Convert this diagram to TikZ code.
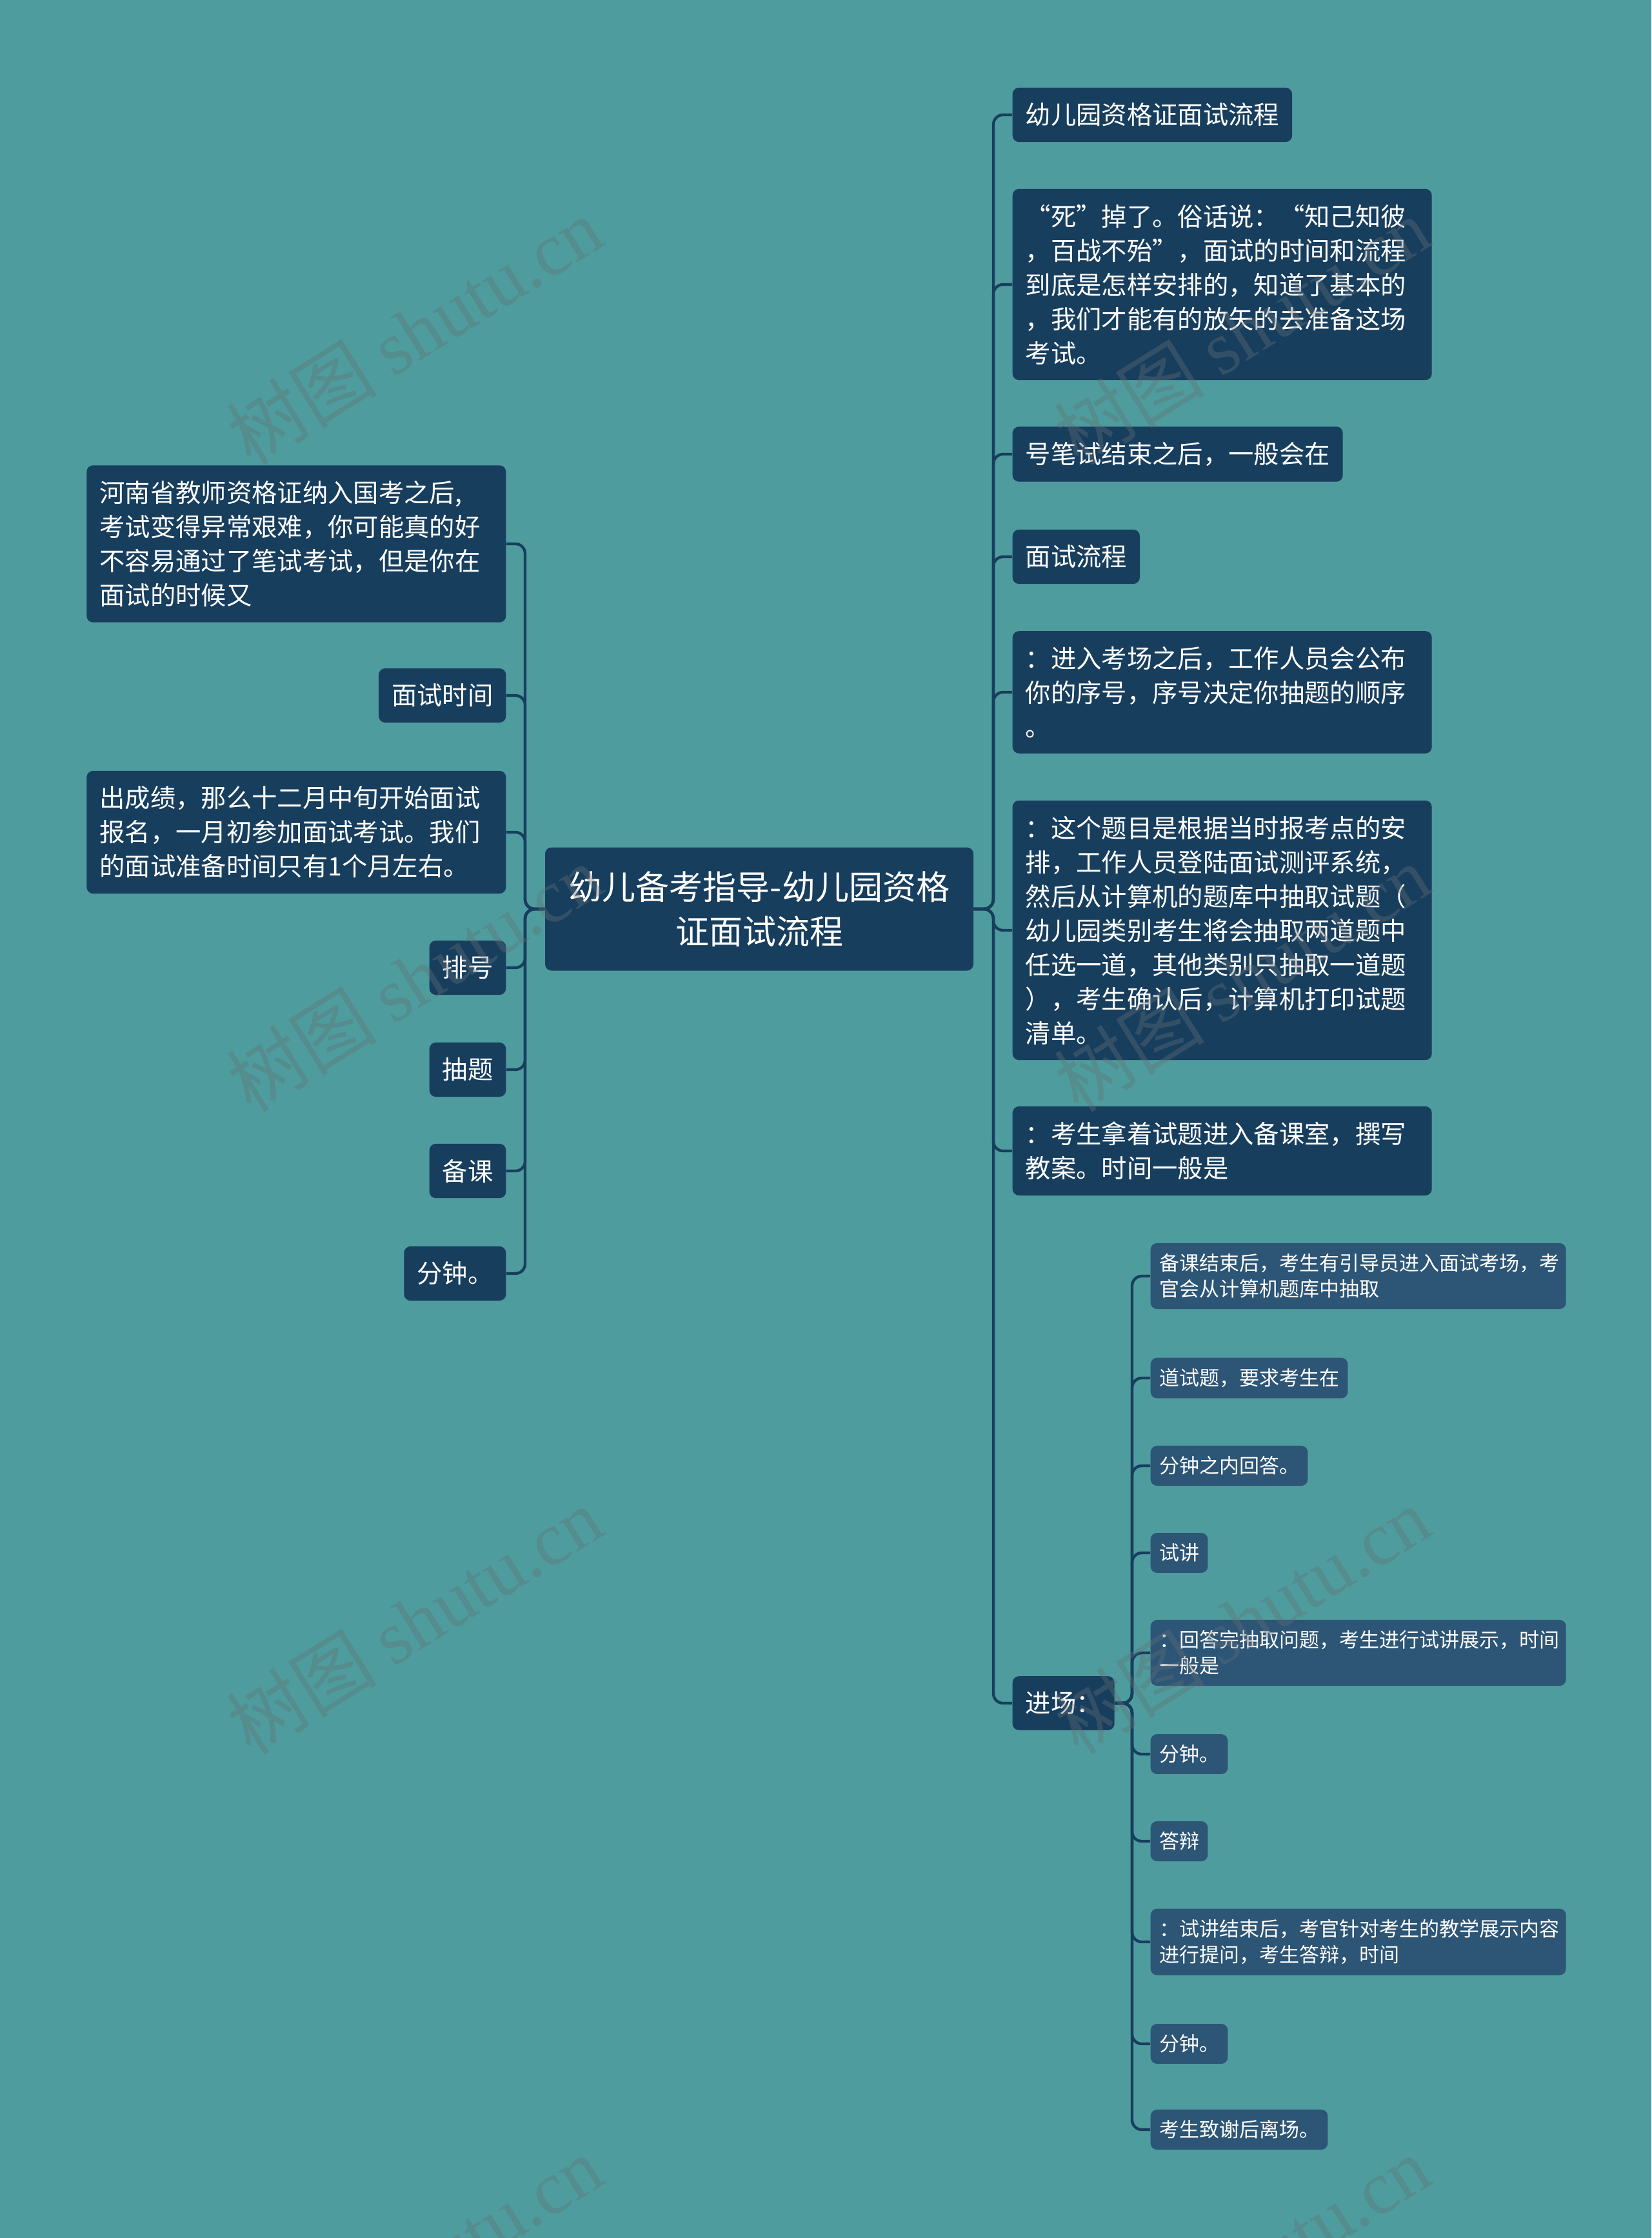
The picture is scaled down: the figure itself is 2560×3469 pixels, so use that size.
\documentclass[tikz,border=0pt]{standalone}
\usepackage{fontspec}
\setmainfont{Noto Sans CJK SC}
\newfontfamily\wmlatin{Liberation Serif}
\definecolor{bgc}{RGB}{78,156,157}
\definecolor{navy}{RGB}{24,62,94}
\definecolor{navyl}{RGB}{45,85,117}
\definecolor{wmc}{RGB}{100,112,118}
\begin{document}
\begin{tikzpicture}[x=0.3pt,y=-0.3pt,
  box/.style={rounded corners=3pt, text=white, align=left},
  rootbox/.style={rounded corners=3pt, text=white, align=center, fill=navy,
    font=\fontsize{15.6pt}{20.6pt}\selectfont, minimum width=199.2pt, minimum height=57.3pt},
  lvone/.style={box, fill=navy, font=\fontsize{11.8pt}{15.9pt}\selectfont, inner xsep=6pt, inner ysep=7.2pt},
  lvonew/.style={lvone, text width=183pt},
  lvtwo/.style={box, fill=navyl, font=\fontsize{9.3pt}{12pt}\selectfont, inner xsep=4pt, inner ysep=5pt},
  lvtwow/.style={lvtwo, text width=185.2pt},
  conn/.style={draw=navy, line width=1.3pt, rounded corners=4.5pt},
  wm/.style={text=wmc, text opacity=0.36, rotate=32, font=\fontsize{35pt}{35pt}\selectfont}
]
\fill[bgc] (0,0) rectangle (2560,3469);
\useasboundingbox (0,0) rectangle (2560,3469);

% root
\node[rootbox] (root) at (1177,1409) {幼儿备考指导-幼儿园资格\\证面试流程};

% left branch
\node[lvonew, anchor=east] (l1) at (785,843) {河南省教师资格证纳入国考之后,\\考试变得异常艰难，你可能真的好\\不容易通过了笔试考试，但是你在\\面试的时候又};
\node[lvone, anchor=east] (l2) at (785,1078) {面试时间};
\node[lvonew, anchor=east] (l3) at (785,1290) {出成绩，那么十二月中旬开始面试\\报名，一月初参加面试考试。我们\\的面试准备时间只有1个月左右。};
\node[lvone, anchor=east] (l4) at (785,1500) {排号};
\node[lvone, anchor=east] (l5) at (785,1658) {抽题};
\node[lvone, anchor=east] (l6) at (785,1815) {备课};
\node[lvone, anchor=east] (l7) at (785,1974) {分钟。};

% right branch
\node[lvone, anchor=west] (r1) at (1569,178) {幼儿园资格证面试流程};
\node[lvonew, anchor=west] (r2) at (1569,441) {“死”掉了。俗话说：“知己知彼\\，百战不殆”，面试的时间和流程\\到底是怎样安排的，知道了基本的\\，我们才能有的放矢的去准备这场\\考试。};
\node[lvone, anchor=west] (r3) at (1569,704) {号笔试结束之后，一般会在};
\node[lvone, anchor=west] (r4) at (1569,863) {面试流程};
\node[lvonew, anchor=west] (r5) at (1569,1073) {：进入考场之后，工作人员会公布\\你的序号，序号决定你抽题的顺序\\。};
\node[lvonew, anchor=west] (r6) at (1569,1442) {：这个题目是根据当时报考点的安\\排，工作人员登陆面试测评系统，\\然后从计算机的题库中抽取试题（\\幼儿园类别考生将会抽取两道题中\\任选一道，其他类别只抽取一道题\\），考生确认后，计算机打印试题\\清单。};
\node[lvonew, anchor=west] (r7) at (1569,1784) {：考生拿着试题进入备课室，撰写\\教案。时间一般是};
\node[lvone, anchor=west] (r8) at (1569,2640) {进场：};

% level two
\node[lvtwow, anchor=west] (s1) at (1783,1978) {备课结束后，考生有引导员进入面试考场，考\\官会从计算机题库中抽取};
\node[lvtwo, anchor=west] (s2) at (1783,2136) {道试题，要求考生在};
\node[lvtwo, anchor=west] (s3) at (1783,2272) {分钟之内回答。};
\node[lvtwo, anchor=west] (s4) at (1783,2407) {试讲};
\node[lvtwow, anchor=west] (s5) at (1783,2562) {：回答完抽取问题，考生进行试讲展示，时间\\一般是};
\node[lvtwo, anchor=west] (s6) at (1783,2719) {分钟。};
\node[lvtwo, anchor=west] (s7) at (1783,2854) {答辩};
\node[lvtwow, anchor=west] (s8) at (1783,3010) {：试讲结束后，考官针对考生的教学展示内容\\进行提问，考生答辩，时间};
\node[lvtwo, anchor=west] (s9) at (1783,3168) {分钟。};
\node[lvtwo, anchor=west] (s10) at (1783,3301) {考生致谢后离场。};

% connectors
\coordinate (lj) at (814,1409);
\coordinate (rj) at (1540,1409);
\coordinate (jj) at (1755,2640);
\foreach \n in {l1,l2,l3,l4,l5,l6,l7}
  \draw[conn] (root.west) -- (lj) |- (\n.east);
\foreach \n in {r1,r2,r3,r4,r5,r6,r7,r8}
  \draw[conn] (root.east) -- (rj) |- (\n.west);
\foreach \n in {s1,s2,s3,s4,s5,s6,s7,s8,s9,s10}
  \draw[conn] (r8.east) -- (jj) |- (\n.west);

% watermarks
\node[wm] (w1) at (642,513) {树图 {\wmlatin shutu.cn}};
\node[wm] (w2) at (1925,513) {树图 {\wmlatin shutu.cn}};
\node[wm] (w3) at (642,1516) {树图 {\wmlatin shutu.cn}};
\node[wm] (w4) at (1925,1516) {树图 {\wmlatin shutu.cn}};
\node[wm] (w5) at (642,2512) {树图 {\wmlatin shutu.cn}};
\node[wm] (w6) at (1925,2512) {树图 {\wmlatin shutu.cn}};
\node[wm] (w7) at (642,3518) {树图 {\wmlatin shutu.cn}};
\node[wm] (w8) at (1925,3518) {树图 {\wmlatin shutu.cn}};
\end{tikzpicture}
\end{document}
